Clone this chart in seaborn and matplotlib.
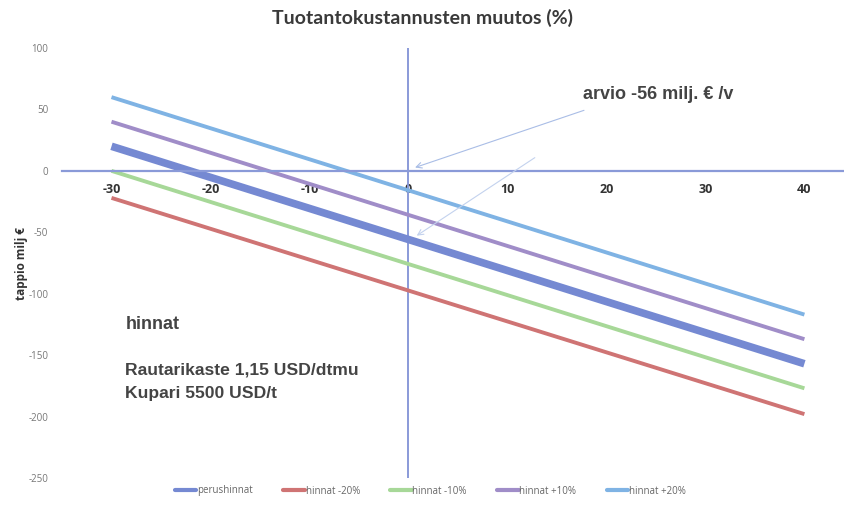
import pandas as pd
import matplotlib.pyplot as plt
import seaborn as sns

# tuotantokustannusten muutos (%) ja tappio milj. € eri hintatasoilla
x_muutos = [-30, 40]
perushinnat = [20, -157]
hinnat_m20 = [-22, -198]
hinnat_m10 = [0, -177]
hinnat_p10 = [40, -137]
hinnat_p20 = [60, -117]
sarjat = ['perushinnat', 'hinnat -20%', 'hinnat -10%', 'hinnat +10%', 'hinnat +20%']
x_ticks = [-30, -20, -10, 0, 10, 20, 30, 40]
y_ticks = [100, 50, 0, -50, -100, -150, -200, -250]

rows = []
for name, vals in zip(sarjat, [perushinnat, hinnat_m20, hinnat_m10, hinnat_p10, hinnat_p20]):
    for x, y in zip(x_muutos, vals):
        rows.append({'muutos': x, 'tappio': y, 'sarja': name})
df = pd.DataFrame(rows)

colors = ['#7589d2', '#cf7474', '#a7d898', '#a08dc8', '#7fb3e4']
widths = [5.5, 2.8, 2.8, 2.8, 2.8]

sns.set_style('white')
plt.rcParams['font.family'] = ['Open Sans', 'DejaVu Sans']
plt.rcParams['axes.unicode_minus'] = False

fig = plt.figure(figsize=(8.44, 5.18), dpi=100)
ax = fig.add_axes([62 / 844, 1 - 478 / 518, 1 - 62 / 844, 430 / 518])

sns.lineplot(data=df, x='muutos', y='tappio', hue='sarja', hue_order=sarjat,
             palette=colors, ax=ax, legend=False)
for line, lw in zip(ax.lines, widths):
    line.set_linewidth(lw)
    line.set_solid_capstyle('butt')

ax.set_xlim(-35, 44)
ax.set_ylim(-250, 100)
ax.set_xticks(x_ticks)
ax.set_yticks(y_ticks)
ax.set_xlabel('')
ax.set_ylabel('tappio milj €', fontsize=8.5, fontweight='bold', color='#333333', labelpad=0)

for s in ['top', 'right', 'left']:
    ax.spines[s].set_visible(False)
ax.spines['bottom'].set_position(('data', 0))
ax.spines['bottom'].set_color('#8a9ad8')
ax.spines['bottom'].set_linewidth(1.6)
ax.axvline(0, color='#8a9ad8', lw=1.4, zorder=1)

ax.tick_params(axis='x', length=0, pad=9, labelsize=9, labelcolor='#333333')
for t in ax.get_xticklabels():
    t.set_fontweight('bold')
ax.tick_params(axis='y', length=0, pad=10, labelsize=7, labelcolor='#777777')

# huomautukset
body_font = ['Liberation Sans', 'DejaVu Sans']
ax.text(17.6, 62, 'arvio -56 milj. € /v', fontsize=13, fontweight='bold',
        color='#444444', va='center', family=body_font)
ax.annotate('', xy=(0.4, 2), xytext=(18, 50),
            arrowprops=dict(arrowstyle='->', color='#a9bde6', lw=0.8))
ax.annotate('', xy=(0.6, -54), xytext=(13, 12),
            arrowprops=dict(arrowstyle='->', color='#c3d2ee', lw=0.8))

ax.text(-28.6, -125, 'hinnat', fontsize=13, fontweight='bold', color='#444444',
        va='center', family=body_font)
ax.text(-28.6, -162, 'Rautarikaste 1,15 USD/dtmu', fontsize=12.6, fontweight='bold',
        color='#444444', va='center', family=body_font)
ax.text(-28.6, -181, 'Kupari 5500 USD/t', fontsize=12.6, fontweight='bold',
        color='#444444', va='center', family=body_font)

fig.text(0.5, 1 - 18 / 518, 'Tuotantokustannusten muutos (%)', ha='center', va='center',
         fontsize=14, fontweight='bold', color='#3a3a3a', family=['Lato', 'DejaVu Sans'])

handles = [plt.Line2D([], [], color=c, lw=3) for c in colors]
fig.legend(handles, sarjat, loc='center', bbox_to_anchor=(0.51, 1 - 491 / 518), ncol=5,
           frameon=False, fontsize=7, handlelength=2.2, handletextpad=0.1,
           columnspacing=3.1, labelcolor='#666666')

fig.savefig('out.png', dpi=100)
